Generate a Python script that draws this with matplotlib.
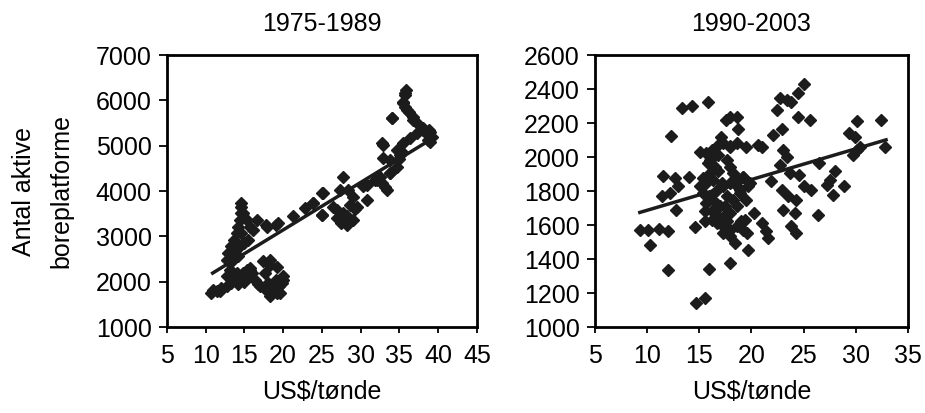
import matplotlib
matplotlib.use("Agg")
import matplotlib.pyplot as plt
import numpy as np

plt.rcParams['font.family'] = ['Liberation Sans', 'DejaVu Sans']

# ---------------- data: 1975-1989 ----------------
left_x = [10.7, 11.4, 12.0, 12.7, 13.3, 14.0, 14.8, 15.3, 15.7, 12.7, 13.5, 13.1, 14.0, 14.4,
          15.7, 16.3, 17.0, 17.8, 18.5, 19.1, 17.4, 18.3, 17.6, 18.1, 19.1, 19.8, 20.0, 18.3,
          19.6, 11.8, 16.8, 18.8, 19.4, 15.0, 14.2, 16.0, 10.9, 15.7, 19.2, 20.0, 18.3, 19.2,
          12.9, 13.3, 13.7, 14.0, 14.2, 14.4, 14.5, 14.6, 14.6, 13.5, 14.2, 14.8, 15.3, 15.7,
          16.1, 16.6, 15.0, 15.5, 14.6, 14.4, 13.7, 12.75, 17.8, 19.1, 17.9, 19.3,
          21.3, 22.8, 23.9, 25.2, 25.0,
          25.0, 23.9, 25.0, 27.7, 28.4, 27.3, 30.8, 28.3, 29.0, 27.7, 27.0, 26.4, 29.5, 29.0,
          32.8, 33.8, 34.7, 33.4, 31.9, 30.8, 26.9, 27.5, 28.2, 28.6, 29.3, 30.3,
          34.0, 32.9, 35.9, 35.7, 35.5, 35.7, 36.2, 36.8, 37.2, 38.1, 38.8, 39.2, 39.0, 38.5,
          35.7, 35.5, 36.0, 36.8, 38.1, 39.0, 38.7, 34.1, 32.8, 32.9, 35.5, 34.7, 36.4, 37.3,
          33.8, 33.8, 32.5, 33.2, 32.1, 35.1, 35.3, 34.9]
left_y = [1750, 1786, 1860, 1896, 1970, 2080, 2190, 2263, 2300, 2116, 2190, 2263, 2190, 2116,
          2116, 2043, 1896, 1822, 1750, 1786, 2446, 2373, 2190, 1970, 2043, 1970, 2116, 1675,
          1750, 1800, 1950, 1850, 1900, 2000, 1950, 2200, 1816, 2257, 1750, 2037, 2478, 2324,
          2630, 2777, 2924, 3070, 3217, 3364, 3511, 3658, 3731, 2483, 2557, 3511, 3364, 3217,
          3144, 3364, 2850, 2924, 3070, 2777, 2703, 2478, 3254, 3254, 3206, 3294,
          3438, 3621, 3731, 3951, 3474,
          3956, 3735, 3470, 4309, 4022, 4022, 3802, 3250, 3360, 3515, 3580, 3647, 3647, 3868,
          4176, 4397, 4530, 4022, 4243, 4132, 3400, 3300, 3450, 3700, 3600, 4100,
          5603, 5016, 6228, 6117, 5971, 5860, 5750, 5640, 5530, 5383, 5346, 5200, 5090, 5273,
          6162, 5941, 5787, 5566, 5346, 5302, 5125, 5610, 5059, 4728, 5059, 4905, 5169, 5280,
          4684, 4397, 4309, 4088, 4243, 4800, 4870, 4700]
left_trend_x = [10.9, 39.0]
left_trend_y = [2190, 5130]

# ---------------- data: 1990-2003 ----------------
right_x = [9.3, 10.1, 11.1, 12.0, 10.3, 12.0, 13.3, 14.3, 15.8, 12.3, 11.5, 12.7, 13.0, 14.0,
           11.4, 12.2, 12.8, 14.6, 15.9, 14.7, 15.5, 15.1, 17.9,
           17.6, 17.9, 18.6, 17.1, 18.7, 17.9, 18.6, 19.5, 20.6, 21.0, 19.2, 19.7, 20.2, 19.4,
           19.6, 19.7, 18.4, 17.9, 17.3, 21.0, 21.4, 21.6, 21.9, 22.1, 22.9, 22.4, 22.7, 23.4,
           23.8, 24.5, 25.0, 24.5, 25.6, 23.0, 23.4, 22.7, 22.9, 23.5, 23.0, 24.2, 23.8, 24.3,
           24.3, 23.7, 24.6, 25.0, 25.7, 26.5, 26.4, 27.2, 27.5, 28.0, 27.8, 28.9, 29.3, 29.9,
           30.1, 29.7, 30.1, 30.4, 32.4, 32.8,
           15.69, 16.17, 16.65, 17.29, 17.93, 15.85, 16.49, 16.01, 16.81, 15.69, 16.33, 17.13,
           17.61, 17.93, 18.25, 18.72, 19.20, 15.37, 16.01, 16.65, 17.29, 17.93, 18.57, 18.88,
           19.84, 15.69, 16.33, 16.97, 17.61, 18.25, 18.88, 19.52, 15.53, 16.17, 16.81, 17.45,
           17.93, 18.57, 15.53, 16.17, 16.65, 17.29, 17.29, 17.61, 17.93, 18.57, 19.04, 19.20,
           15.05, 15.37, 16.01, 16.81]
right_y = [1568, 1572, 1576, 1562, 1484, 1337, 2287, 2303, 2326, 2124, 1886, 1876, 1827, 1882,
           1768, 1788, 1690, 1588, 1341, 1141, 1170, 2032, 1376,
           2218, 2238, 2234, 2120, 2163, 2061, 2081, 2061, 2072, 2061, 1885, 1827, 1670, 1631,
           1552, 1455, 1494, 1533, 1552, 1611, 1562, 1523, 1856, 2130, 2163, 2277, 2346, 2336,
           2326, 2379, 2428, 2234, 2218, 2042, 2003, 1954, 1807, 1768, 1690, 1670, 1592, 1552,
           1748, 1905, 1895, 1827, 1807, 1964, 1660, 1837, 1866, 1915, 1778, 1827, 2140, 2120,
           2209, 2013, 2042, 2061, 2218, 2061,
           2023, 2042, 2062, 2081, 2062, 1964, 1944, 1905, 1915, 1846, 1866, 1846,
           1983, 1944, 1905, 1866, 1885, 1788, 1768, 1807, 1827, 1846, 1827, 1807,
           1846, 1729, 1748, 1709, 1768, 1748, 1788, 1748, 1680, 1680, 1650, 1709,
           1670, 1709, 1621, 1631, 1611, 1650, 1592, 1621, 1572, 1592, 1621, 1572,
           1827, 1876, 1983, 2013]
right_trend_x = [9.3, 32.9]
right_trend_y = [1674, 2101]

titles = ["1975-1989", "1990-2003"]
xlabel = "US$/tønde"
ylabel = "Antal aktive\nboreplatforme"

fig = plt.figure(figsize=(9.25, 4.13), dpi=100)
ax1 = fig.add_axes([0.1805, 0.2082, 0.335, 0.6586])
ax2 = fig.add_axes([0.6432, 0.2082, 0.3384, 0.6586])

mcol = '#1c1c1c'
fs = 18

def style(ax, xlim, xticks, ylim, yticks, title):
    ax.set_xlim(*xlim)
    ax.set_ylim(*ylim)
    ax.set_xticks(xticks)
    ax.set_yticks(yticks)
    ax.tick_params(axis='both', direction='out', width=1.3, labelsize=fs, colors='black')
    ax.tick_params(axis='x', length=4, pad=8)
    ax.tick_params(axis='y', length=6, pad=5)
    for s in ax.spines.values():
        s.set_linewidth(2)
        s.set_color('black')
    ax.set_title(title, fontsize=fs, pad=17)
    ax.set_xlabel(xlabel, fontsize=fs, labelpad=9)

ax1.plot(left_x, left_y, linestyle='none', marker='D', markersize=6, color=mcol,
         markeredgecolor=mcol, clip_on=False)
ax1.plot(left_trend_x, left_trend_y, color=mcol, linewidth=2.5)
style(ax1, (5, 45), range(5, 46, 5), (1000, 7000), range(1000, 7001, 1000), titles[0])
ax1.set_ylabel(ylabel, fontsize=fs, labelpad=16, linespacing=1.7)

ax2.plot(right_x, right_y, linestyle='none', marker='D', markersize=6.5, color=mcol,
         markeredgecolor=mcol, clip_on=False)
ax2.plot(right_trend_x, right_trend_y, color=mcol, linewidth=2.5)
style(ax2, (5, 35), range(5, 36, 5), (1000, 2600), range(1000, 2601, 200), titles[1])

fig.savefig("out.png", dpi=100, facecolor='white')
